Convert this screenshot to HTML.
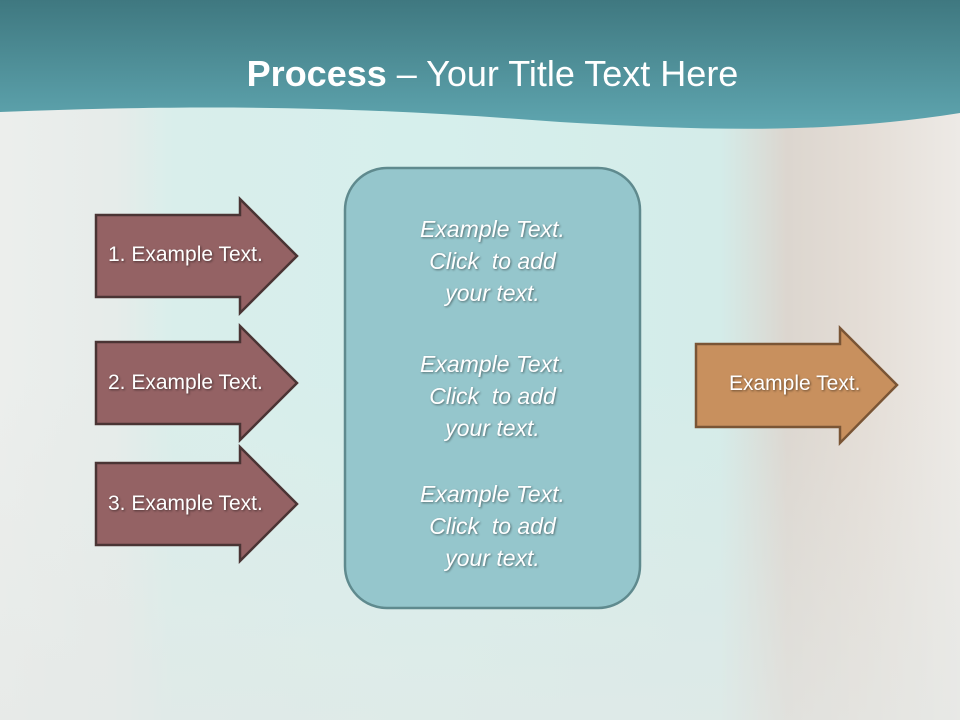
<!DOCTYPE html>
<html><head><style>
body{margin:0;width:960px;height:720px;overflow:hidden;position:relative;font-family:"Liberation Sans",sans-serif;
background:linear-gradient(90deg,#eceeec 0%,#e6ecea 12%,#d9eeeb 18%,#d6efec 45%,#d4ece9 75%,#dcd6cf 82%,#e4ddd6 90%,#edeae6 100%);}
.t{position:absolute;color:#fff;text-shadow:1px 1px 2px rgba(0,0,0,.5);white-space:nowrap}
.ct{position:absolute;left:345px;width:295px;text-align:center;color:#fff;font-style:italic;font-size:23px;line-height:32px;text-shadow:1px 1px 2px rgba(0,0,0,.45)}
</style></head><body>
<div style="position:absolute;left:0;top:380px;width:960px;height:340px;background:linear-gradient(180deg,rgba(230,236,234,0) 0%,rgba(228,232,230,.6) 100%)"></div>
<svg width="960" height="720" style="position:absolute;left:0;top:0">
<defs><linearGradient id="g" x1="0" y1="0" x2="0" y2="1"><stop offset="0" stop-color="#3f7880"/><stop offset="1" stop-color="#5fa6b0"/></linearGradient></defs>
<path d="M0 0H960V113C820 135 700 130 560 122C400 110 250 102 0 112Z" fill="url(#g)"/>
<rect x="345" y="168" width="295" height="440" rx="42" fill="#95c6cc" stroke="#5f8a8e" stroke-width="2.5"/>
<g fill="#946264" stroke="#4a3434" stroke-width="2.5">
<path d="M96 215H240V199L297 256L240 313V297H96Z"/>
<path d="M96 342H240V326L297 383L240 440V424H96Z"/>
<path d="M96 463H240V447L297 504L240 561V545H96Z"/>
</g>
<path d="M696 344H840V328L897 385L840 443V427H696Z" fill="#c8905e" stroke="#7a5535" stroke-width="2.5"/>
</svg>
<div class="t" style="left:0;width:985px;top:53px;text-align:center;font-size:36px;text-shadow:none"><b>Process</b> – Your Title Text Here</div>
<div class="t" style="left:108px;top:243px;font-size:21px">1. Example Text.</div>
<div class="t" style="left:108px;top:371px;font-size:21px">2. Example Text.</div>
<div class="t" style="left:108px;top:492px;font-size:21px">3. Example Text.</div>
<div class="t" style="left:729px;top:372px;font-size:21px">Example Text.</div>
<div class="ct" style="top:213px">Example Text.<br>Click &nbsp;to add<br>your text.</div>
<div class="ct" style="top:348px">Example Text.<br>Click &nbsp;to add<br>your text.</div>
<div class="ct" style="top:478px">Example Text.<br>Click &nbsp;to add<br>your text.</div>
</body></html>
